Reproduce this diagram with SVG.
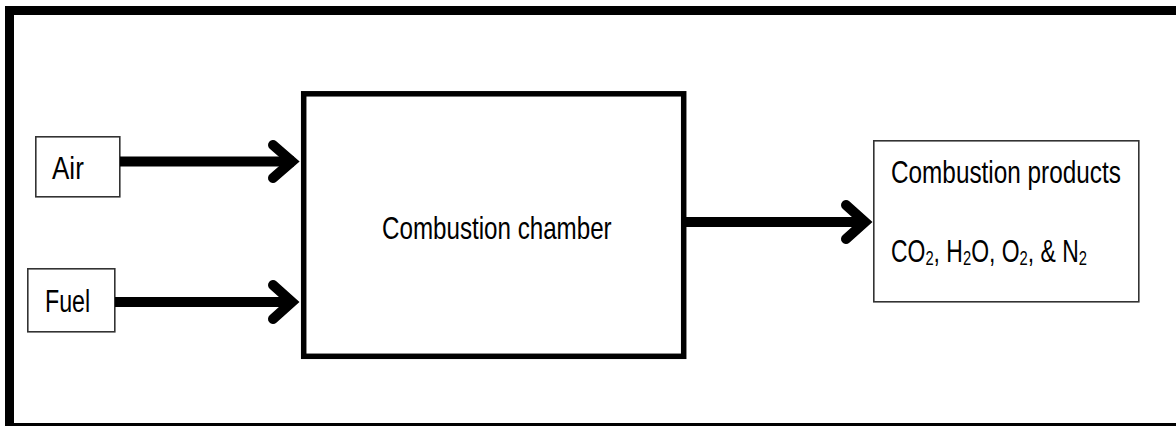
<svg xmlns="http://www.w3.org/2000/svg" width="1176" height="426" viewBox="0 0 1176 426">
<style>
.box{fill:#fff;stroke:#333;stroke-width:1.6}
.big{fill:#fff;stroke:#000;stroke-width:5.5}
.t{font-family:"Liberation Sans",Arial,sans-serif;font-size:31px;fill:#000}
.sub{font-size:20px}
.ln{fill:none;stroke:#000;stroke-width:10}
.hd{fill:none;stroke:#000;stroke-width:10;stroke-linecap:round;stroke-linejoin:miter;stroke-miterlimit:10}
</style>
<rect width="1176" height="426" fill="#fff"/>
<g id="frame">
<path d="M1176 10.5 H9.5 V426" fill="none" stroke="#000" stroke-width="9"/>
<path d="M9.5 424.5 H1176" fill="none" stroke="#000" stroke-width="3"/>
</g>
<g id="air">
<rect class="box" x="35.8" y="136.8" width="84" height="60"/>
<text class="t" transform="translate(52 179) scale(0.84 1)">Air</text>
</g>
<g id="fuel">
<rect class="box" x="27.8" y="268.8" width="87" height="63"/>
<text class="t" transform="translate(45 312) scale(0.75 1)">Fuel</text>
</g>
<g id="chamber">
<rect class="big" x="303.7" y="93.8" width="380" height="262.5"/>
<text class="t" transform="translate(382 239) scale(0.78 1)">Combustion chamber</text>
</g>
<g id="products">
<rect class="box" x="873.8" y="140.8" width="265" height="161"/>
<text class="t" transform="translate(891 183) scale(0.785 1)">Combustion products</text>
<text class="t" transform="translate(891 262) scale(0.74 1)">CO<tspan class="sub" dy="3">2</tspan><tspan dy="-3">, H</tspan><tspan class="sub" dy="3">2</tspan><tspan dy="-3">O, O</tspan><tspan class="sub" dy="3">2</tspan><tspan dy="-3">, &amp; N</tspan><tspan class="sub" dy="3">2</tspan></text>
</g>
<g id="connectors">
<line class="ln" x1="120" y1="161.5" x2="294" y2="161.5"/>
<polyline class="hd" points="273,145 292,161.5 273,178"/>
<line class="ln" x1="115" y1="302" x2="294" y2="302"/>
<polyline class="hd" points="273,285 292,302 273,319"/>
<line class="ln" x1="686" y1="222" x2="867" y2="222"/>
<polyline class="hd" points="846,205 865,222 846,239"/>
</g>
</svg>
